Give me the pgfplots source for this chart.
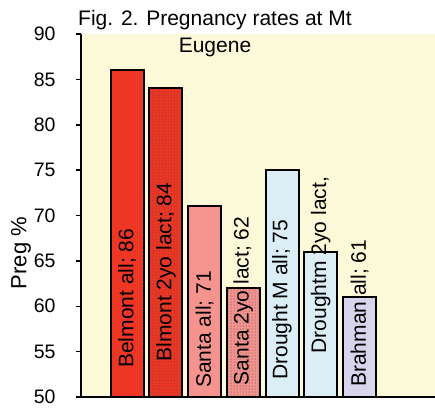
\documentclass[border=0pt]{standalone}
\usepackage{fontspec}
\setmainfont{Liberation Sans}
\usepackage{pgfplots}
\pgfplotsset{compat=1.18}
\usetikzlibrary{patterns}
\definecolor{bg}{RGB}{252,249,216}
\definecolor{belred}{RGB}{238,54,36}
\definecolor{santapink}{RGB}{245,148,143}
\definecolor{drblue}{RGB}{219,238,246}
\definecolor{brlav}{RGB}{216,212,236}
\newcommand{\labfont}{\fontsize{21}{25}\selectfont}
\begin{document}
\begin{tikzpicture}
\begin{axis}[
  at={(0pt,0pt)}, anchor=south west,
  scale only axis, width=354pt, height=363pt,
  xmin=-1.19, xmax=7.95, ymin=50, ymax=90,
  ytick={50,55,...,90}, xtick=\empty,
  axis x line*=bottom, axis y line*=left,
  axis line style={line width=1.8pt, -},
  y tick style={black, line width=1.5pt},
  tick align=outside, major tick length=5pt,
  yticklabel style={font=\fontsize{19.5}{22}\selectfont, xshift=-17pt},
  /pgf/number format/assume math mode=true,
  axis background/.style={fill=bg},
  ybar, bar width=33pt,
]
\addplot[fill=belred, draw=black, line width=2pt, bar shift=0pt] coordinates {(0,86)};
\addplot[fill=belred, draw=black, line width=2pt, bar shift=0pt, postaction={pattern=dots, pattern color=black!75}] coordinates {(1,84)};
\addplot[fill=santapink, draw=black, line width=2pt, bar shift=0pt] coordinates {(2,71)};
\addplot[fill=santapink, draw=black, line width=2pt, bar shift=0pt, postaction={pattern=dots, pattern color=black!75}] coordinates {(3,62)};
\addplot[fill=drblue, draw=black, line width=2pt, bar shift=0pt] coordinates {(4,75)};
\addplot[fill=drblue, draw=black, line width=2pt, bar shift=0pt] coordinates {(5,66)};
\addplot[fill=brlav, draw=black, line width=2pt, bar shift=0pt] coordinates {(6,61)};
\node[rotate=90, anchor=west, inner sep=0pt, font=\labfont] at (axis cs:0,53.2) {Belmont all; 86};
\node[rotate=90, anchor=west, inner sep=0pt, font=\labfont] at (axis cs:1,53.9) {Blmont 2yo lact; 84};
\node[rotate=90, anchor=west, inner sep=0pt, font=\labfont] at (axis cs:2,51.0) {Santa all; 71};
\node[rotate=90, anchor=west, inner sep=0pt, font=\labfont] at (axis cs:3,51.3) {Santa 2yo lact; 62};
\node[rotate=90, anchor=west, inner sep=0pt, font=\labfont] at (axis cs:4,51.9) {Drought M all; 75};
\node[rotate=90, anchor=west, inner sep=0pt, font=\labfont] at (axis cs:5,54.8) {Droughtm 2yo lact,};
\node[rotate=90, anchor=west, inner sep=0pt, font=\labfont] at (axis cs:6,51.1) {Brahman all; 61};
\end{axis}
\node[anchor=base, inner sep=0pt, font=\fontsize{21}{25}\selectfont] at (134pt,371pt) {Fig. 2. Pregnancy rates at Mt};
\node[anchor=base, inner sep=0pt, font=\fontsize{21}{25}\selectfont] at (134pt,344pt) {Eugene};
\node[rotate=90, inner sep=0pt, font=\fontsize{22}{25}\selectfont] at (-60pt,144pt) {Preg \%};
\pgfresetboundingbox
\useasboundingbox (-81pt,-10pt) rectangle (354pt,397pt);
\end{tikzpicture}
\end{document}
